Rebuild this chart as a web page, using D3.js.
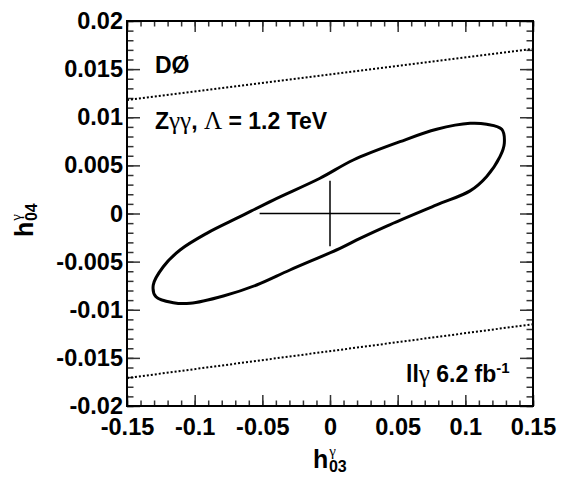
<!DOCTYPE html>
<html>
<head>
<meta charset="utf-8">
<script src="https://cdn.jsdelivr.net/npm/d3@7"></script>
<style>
  body { margin: 0; background: #fff; }
  svg { font-family: "Liberation Sans", Arial, sans-serif; font-weight: bold; }
  .greek { font-family: "Liberation Serif", "Times New Roman", serif; font-weight: normal; }
</style>
</head>
<body>
<svg id="chart" width="569" height="479"></svg>
<script>
// tick values and labels
const xTicks = [-0.15, -0.1, -0.05, 0, 0.05, 0.1, 0.15];
const xTickLabels = ["-0.15", "-0.1", "-0.05", "0", "0.05", "0.1", "0.15"];
const yTicks = [-0.02, -0.015, -0.01, -0.005, 0, 0.005, 0.01, 0.015, 0.02];
const yTickLabels = ["-0.02", "-0.015", "-0.01", "-0.005", "0", "0.005", "0.01", "0.015", "0.02"];

// 95% C.L. contour
const contourX = [0.1288, 0.1269, 0.1158, 0.1035, 0.0788, 0.0517, 0.0172, -0.0074, -0.0419, -0.0665,
  -0.0911, -0.1108, -0.1232, -0.1306, -0.1286, -0.1158, -0.1034, -0.0788, -0.0542, -0.0296,
  0.0074, 0.0222, 0.0419, 0.0788, 0.1035, 0.1158, 0.1256];
const contourY = [0.00729, 0.00875, 0.00927, 0.00937, 0.00875, 0.00746, 0.00556, 0.00366, 0.00140, -0.00033,
  -0.00206, -0.00379, -0.00553, -0.00743, -0.00865, -0.00927, -0.00933, -0.00857, -0.00743, -0.00587,
  -0.00362, -0.00258, -0.0013, 0.0009, 0.00235, 0.00385, 0.00590];

// unitarity limits (dotted)
const limitX = [-0.15, 0.15];
const upperLimitY = [0.0118, 0.0171];
const lowerLimitY = [-0.0171, -0.0115];

// 1D limits cross
const crossX = [-0.052, 0.052];
const crossY = [-0.0034, 0.0034];

const margin = { top: 21, right: 36, bottom: 73, left: 127 };
const width = 569 - margin.left - margin.right;
const height = 479 - margin.top - margin.bottom;

const svg = d3.select("#chart");
const g = svg.append("g").attr("transform", `translate(${margin.left},${margin.top})`);

const x = d3.scaleLinear().domain([-0.15, 0.15]).range([0, width]);
const y = d3.scaleLinear().domain([-0.02, 0.02]).range([height, 0]);

const xMinor = d3.range(-150, 151, 10).map(d => d / 1000);
const yMinor = d3.range(-20, 21, 1).map(d => d / 1000);

function styleAxis(sel) {
  sel.select(".domain").remove();
  sel.selectAll("line").attr("stroke", "#333").attr("stroke-width", 1.5);
}

// minor ticks all four sides
g.append("g").attr("transform", `translate(0,${height})`)
  .call(d3.axisBottom(x).tickValues(xMinor).tickSize(-5.5).tickFormat(""))
  .call(styleAxis);
g.append("g")
  .call(d3.axisTop(x).tickValues(xMinor).tickSize(-5.5).tickFormat(""))
  .call(styleAxis);
g.append("g")
  .call(d3.axisLeft(y).tickValues(yMinor).tickSize(-6.5).tickFormat(""))
  .call(styleAxis);
g.append("g").attr("transform", `translate(${width},0)`)
  .call(d3.axisRight(y).tickValues(yMinor).tickSize(-6.5).tickFormat(""))
  .call(styleAxis);

// major ticks with labels
g.append("g").attr("transform", `translate(0,${height})`)
  .call(d3.axisBottom(x).tickValues(xTicks).tickSize(-11).tickPadding(12)
    .tickFormat((d, i) => xTickLabels[i]))
  .call(styleAxis)
  .selectAll("text").attr("fill", "#000").style("font-size", "23.5px")
  .style("font-family", '"Liberation Sans", Arial, sans-serif').style("font-weight", "bold");
g.append("g")
  .call(d3.axisTop(x).tickValues(xTicks).tickSize(-11).tickFormat(""))
  .call(styleAxis);
g.append("g")
  .call(d3.axisLeft(y).tickValues(yTicks).tickSize(-13).tickPadding(4)
    .tickFormat((d, i) => yTickLabels[i]))
  .call(styleAxis)
  .selectAll("text").attr("fill", "#000").style("font-size", "23.5px")
  .style("font-family", '"Liberation Sans", Arial, sans-serif').style("font-weight", "bold");
g.append("g").attr("transform", `translate(${width},0)`)
  .call(d3.axisRight(y).tickValues(yTicks).tickSize(-13).tickFormat(""))
  .call(styleAxis);

// frame
g.append("rect").attr("width", width).attr("height", height)
  .attr("fill", "none").attr("stroke", "#000").attr("stroke-width", 2);

// dotted limit lines
const line = d3.line().x(d => x(d[0])).y(d => y(d[1]));
[upperLimitY, lowerLimitY].forEach(ly => {
  g.append("path")
    .attr("d", line(limitX.map((v, i) => [v, ly[i]])))
    .attr("fill", "none").attr("stroke", "#000")
    .attr("stroke-width", 2).attr("stroke-dasharray", "2,2");
});

// contour
g.append("path")
  .attr("d", d3.line().x(d => x(d[0])).y(d => y(d[1])).curve(d3.curveCatmullRomClosed)(contourX.map((v, i) => [v, contourY[i]])))
  .attr("fill", "none").attr("stroke", "#000").attr("stroke-width", 3);

// cross
g.append("line").attr("x1", x(crossX[0])).attr("x2", x(crossX[1])).attr("y1", y(0)).attr("y2", y(0))
  .attr("stroke", "#000").attr("stroke-width", 1.5);
g.append("line").attr("x1", x(0)).attr("x2", x(0)).attr("y1", y(crossY[0])).attr("y2", y(crossY[1]))
  .attr("stroke", "#000").attr("stroke-width", 1.5);

// labels
svg.append("text").attr("x", 155).attr("y", 73).style("font-size", "23px").text("DØ");

const t2 = svg.append("text").attr("x", 155).attr("y", 129).style("font-size", "23px");
t2.append("tspan").text("Z");
t2.append("tspan").attr("class", "greek").style("font-size", "25px").text("γγ");
t2.append("tspan").text(", ");
t2.append("tspan").attr("class", "greek").style("font-size", "25px").text("Λ");
t2.append("tspan").text(" = 1.2 TeV");

const t3 = svg.append("text").attr("x", 406).attr("y", 382).style("font-size", "23px");
t3.append("tspan").text("ll");
t3.append("tspan").attr("class", "greek").style("font-size", "25px").text("γ");
t3.append("tspan").text(" 6.2 fb");
t3.append("tspan").attr("dy", -9).style("font-size", "15px").text("-1");

// axis titles
const xt = svg.append("text").attr("x", 313).attr("y", 468).style("font-size", "25px");
xt.append("tspan").text("h");
xt.append("tspan").attr("class", "greek").attr("dy", -12).attr("dx", 1).style("font-size", "15px").text("γ");
xt.append("tspan").attr("dy", 16).attr("dx", -7).style("font-size", "16px").text("03");

const yt = svg.append("text").attr("transform", "translate(33,237) rotate(-90)").style("font-size", "25px");
yt.append("tspan").text("h");
yt.append("tspan").attr("class", "greek").attr("dy", -12).attr("dx", 1).style("font-size", "15px").text("γ");
yt.append("tspan").attr("dy", 16).attr("dx", -7).style("font-size", "16px").text("04");
</script>
</body>
</html>
